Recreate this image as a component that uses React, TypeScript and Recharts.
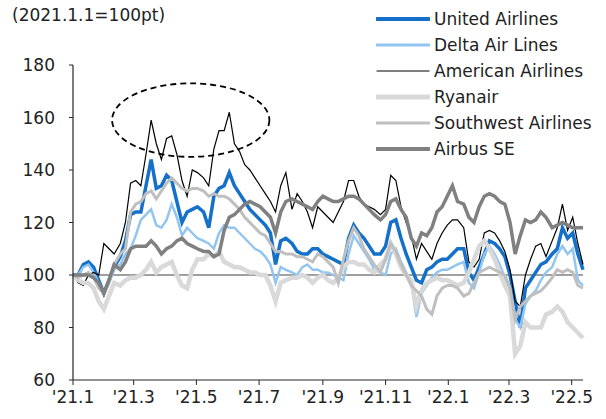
import { LineChart, Line, XAxis, YAxis, ReferenceLine, ReferenceArea } from "recharts";

// calendar days since 2021-01-01
const days = [
  0, 5, 10, 15, 20, 25, 30, 35, 40, 46, 51, 56, 61, 66, 71, 76, 81, 86, 91, 96,
  101, 106, 111, 116, 121, 127, 132, 137, 142, 147, 152, 157, 162, 167, 172, 177, 182, 187, 192, 197,
  202, 207, 213, 218, 223, 228, 233, 238, 243, 248, 253, 258, 263, 268, 273, 278, 283, 288, 293, 299,
  304, 309, 314, 319, 324, 329, 334, 339, 344, 349, 354, 359, 364, 369, 374, 380, 385, 390, 395, 400,
  405, 410, 415, 420, 425, 430, 435, 440, 445, 450, 455, 460, 466, 471, 476, 481, 486, 491, 496,
];

const united = [
  100, 100, 104, 105, 103, 98, 93, 98, 103, 107, 113, 123, 124, 124, 134, 144, 133, 134, 138, 136,
  128, 120, 124, 125, 126, 124, 118, 130, 133, 134, 139, 134, 131, 128, 125, 123, 121, 119, 116, 104,
  113, 114, 112, 109, 108, 108, 110, 110, 108, 107, 106, 105, 104, 114, 119, 116, 114, 111, 108, 108,
  111, 120, 121, 114, 108, 103, 98, 97, 102, 103, 105, 106, 106, 108, 110, 110, 101, 98, 103, 108,
  113, 112, 110, 107, 100, 90, 80, 95, 98, 101, 104, 105, 108, 110, 118, 114, 116, 108, 102,
];

const delta = [
  100, 100, 103, 104, 101, 97, 93, 97, 102, 104, 108, 110, 115, 121, 123, 125, 119, 118, 121, 127,
  122, 115, 118, 116, 114, 113, 112, 110, 116, 119, 118, 118, 116, 114, 112, 110, 109, 107, 104, 97,
  103, 102, 101, 100, 103, 104, 102, 102, 101, 101, 100, 99, 98, 108, 115, 112, 109, 106, 102, 101,
  100, 108, 110, 105, 101, 97, 84, 93, 96, 99, 101, 102, 102, 103, 104, 105, 97, 95, 101, 108,
  111, 108, 104, 99, 95, 83, 80, 89, 92, 94, 98, 101, 103, 108, 111, 108, 110, 98, 96,
];

const american = [
  100, 97, 96, 100, 101, 100, 112, 110, 108, 112, 120, 135, 136, 134, 146, 159, 150, 144, 152, 153,
  146, 136, 130, 140, 139, 137, 134, 148, 155, 155, 162, 150, 147, 142, 140, 137, 134, 131, 128, 124,
  134, 139, 125, 131, 128, 124, 118, 126, 124, 122, 120, 124, 128, 136, 136, 130, 127, 126, 125, 123,
  125, 138, 136, 126, 120, 115, 106, 112, 109, 106, 112, 116, 119, 121, 121, 118, 105, 103, 106, 116,
  117, 116, 113, 109, 102, 90, 88, 100, 106, 111, 112, 107, 113, 118, 127, 117, 122, 112, 104,
];

const ryanair = [
  100, 98, 97, 97, 95, 90, 87, 92, 97, 96, 98, 99, 99, 100, 102, 105, 101, 103, 104, 105,
  100, 96, 95, 102, 106, 106, 108, 107, 109, 105, 104, 103, 103, 102, 101, 101, 100, 100, 96, 90,
  97, 98, 99, 99, 100, 99, 97, 99, 100, 98, 97, 99, 103, 105, 105, 104, 104, 102, 101, 104,
  106, 112, 108, 103, 100, 98, 88, 94, 97, 98, 99, 98, 98, 97, 96, 97, 101, 106, 111, 113,
  110, 106, 101, 96, 92, 70, 73, 82, 80, 80, 80, 85, 86, 88, 86, 82, 80, 78, 76,
];

const southwest = [
  100, 99, 100, 101, 99, 95, 93, 97, 104, 108, 110, 124, 127, 128, 131, 132, 129, 132, 135, 137,
  135, 133, 132, 133, 133, 132, 130, 131, 130, 130, 129, 127, 125, 122, 120, 118, 116, 115, 112, 109,
  109, 108, 108, 107, 107, 106, 105, 108, 107, 105, 103, 97, 106, 113, 118, 115, 110, 107, 104, 101,
  106, 112, 109, 104, 100, 96, 94, 92, 87, 85, 92, 95, 96, 96, 95, 92, 93, 97, 101, 102,
  103, 102, 101, 100, 95, 83, 88, 90, 92, 93, 94, 96, 99, 102, 101, 102, 101, 96, 95,
];

const airbus = [
  100, 100, 100, 100, 99, 97, 93, 98, 104, 102, 105, 110, 111, 111, 111, 113, 111, 108, 110, 111,
  113, 114, 112, 111, 110, 109, 109, 107, 108, 117, 122, 123, 125, 127, 128, 127, 126, 124, 122, 116,
  124, 128, 129, 128, 127, 126, 125, 128, 130, 129, 128, 128, 129, 130, 130, 129, 127, 125, 123, 121,
  123, 128, 129, 125, 122, 114, 111, 116, 115, 118, 124, 126, 130, 134, 128, 127, 122, 120, 126, 130,
  131, 130, 128, 127, 120, 108, 115, 121, 120, 121, 124, 122, 118, 119, 120, 119, 118, 118, 118,
];

const monthTicks = [0, 59, 120, 181, 243, 304, 365, 424, 485];
const monthLabels = ["'21.1", "'21.3", "'21.5", "'21.7", "'21.9", "'21.11", "'22.1", "'22.3", "'22.5"];
const yTicks = [60, 80, 100, 120, 140, 160, 180];

const series = [
  { key: "united", name: "United Airlines", values: united, color: "#1470c8", width: 3.5, legendWidth: 4 },
  { key: "delta", name: "Delta Air Lines", values: delta, color: "#92c5f0", width: 2.5, legendWidth: 3 },
  { key: "american", name: "American Airlines", values: american, color: "#000000", width: 1.2, legendWidth: 1.2 },
  { key: "ryanair", name: "Ryanair", values: ryanair, color: "#d9d9d9", width: 4.5, legendWidth: 5 },
  { key: "southwest", name: "Southwest Airlines", values: southwest, color: "#bfbfbf", width: 3, legendWidth: 3 },
  { key: "airbus", name: "Airbus SE", values: airbus, color: "#808080", width: 3.5, legendWidth: 4 },
];

const data = days.map((d, i) => {
  const row: { [k: string]: number } = { day: d };
  series.forEach((s) => {
    row[s.key] = s.values[i];
  });
  return row;
});

const FONT = "'DejaVu Sans', sans-serif";
const TEXT = "#222";

// dashed ellipse around the spring 2021 peaks
const Ellipse = (props: any) => {
  const { x, y, width, height } = props;
  return (
    <ellipse
      cx={x + width / 2}
      cy={y + height / 2}
      rx={width / 2}
      ry={height / 2}
      fill="none"
      stroke="#000"
      strokeWidth={1.8}
      strokeDasharray="6 4"
    />
  );
};

export default function App() {
  return (
    <div style={{ position: "absolute", left: 0, top: 0, width: 606, height: 419, background: "#fff", fontFamily: FONT }}>
      <div style={{ position: "absolute", left: 12, top: 5, fontSize: 17, color: TEXT }}>(2021.1.1=100pt)</div>

      <LineChart width={606} height={419} data={data} margin={{ top: 65, right: 23, bottom: 9, left: 13 }}>
        <XAxis
          dataKey="day"
          type="number"
          domain={[0, 496]}
          ticks={monthTicks}
          tickFormatter={(v: number) => monthLabels[monthTicks.indexOf(v)]}
          height={30}
          tickSize={5}
          tickMargin={6}
          axisLine={{ stroke: "#262626", strokeWidth: 1.2 }}
          tickLine={{ stroke: "#262626" }}
          tick={{ fill: TEXT, fontSize: 17, fontFamily: FONT }}
          interval={0}
        />
        <YAxis
          type="number"
          domain={[60, 180]}
          ticks={yTicks}
          width={60}
          tickSize={4}
          tickMargin={14}
          axisLine={{ stroke: "#262626", strokeWidth: 1.2 }}
          tickLine={{ stroke: "#262626" }}
          tick={{ fill: TEXT, fontSize: 17, fontFamily: FONT }}
          interval={0}
        />
        <ReferenceLine y={100} stroke="#808080" strokeWidth={1.5} />
        {series.map((s) => (
          <Line
            key={s.key}
            dataKey={s.key}
            name={s.name}
            stroke={s.color}
            strokeWidth={s.width}
            dot={false}
            type="linear"
            isAnimationActive={false}
          />
        ))}
        <ReferenceArea x1={38} x2={191} y1={145} y2={173} shape={<Ellipse />} />
      </LineChart>

      {/* legend */}
      <div style={{ position: "absolute", left: 376, top: 6 }}>
        {series.map((s) => (
          <div key={s.key} style={{ display: "flex", alignItems: "center", height: 26 }}>
            <svg width={54} height={26}>
              <line x1={1} y1={13} x2={53} y2={13} stroke={s.color} strokeWidth={s.legendWidth} strokeLinecap="round" />
            </svg>
            <span style={{ marginLeft: 4, fontSize: 17, color: TEXT, whiteSpace: "nowrap" }}>{s.name}</span>
          </div>
        ))}
      </div>
    </div>
  );
}
